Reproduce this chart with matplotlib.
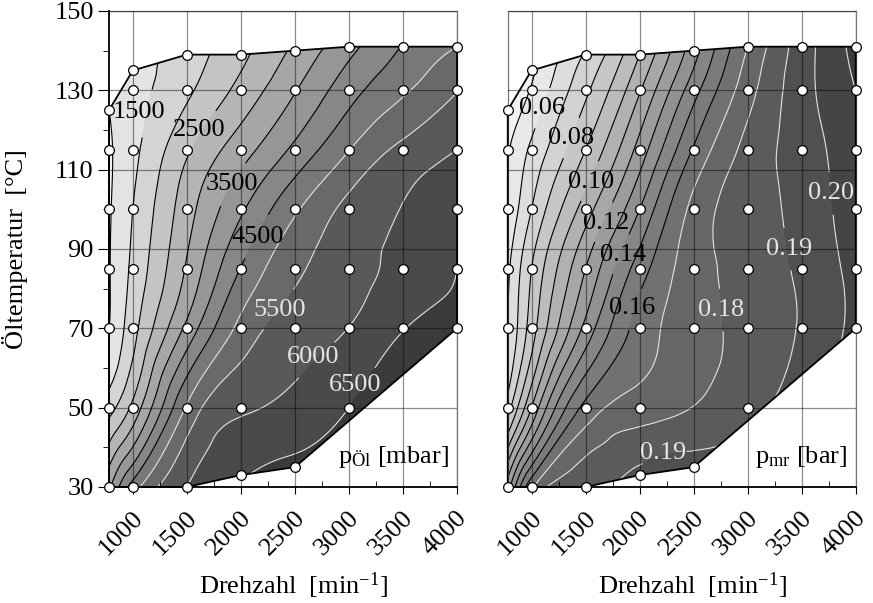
import numpy as np
import matplotlib
matplotlib.use('Agg')
import matplotlib.pyplot as plt
import matplotlib.tri as mtri
from matplotlib.patches import Polygon
from matplotlib.ticker import MultipleLocator
from matplotlib.transforms import ScaledTranslation

plt.rcParams['font.family'] = ['Liberation Serif', 'DejaVu Serif']
plt.rcParams['mathtext.fontset'] = 'custom'
plt.rcParams['mathtext.rm'] = 'Liberation Serif'
plt.rcParams['mathtext.it'] = 'Liberation Serif:italic'

# measured operating points, row by row from the top edge of the map down
drehzahl = [780, 1000, 1500, 2000, 2500, 3000, 3500, 4000,
            1000, 1500, 2000, 2500, 3000, 3500, 4000,
            780, 1000, 1500, 2000, 2500, 3000, 3500, 4000,
            780, 1000, 1500, 2000, 2500, 3000, 4000,
            780, 1000, 1500, 2000, 2500, 3000, 3500, 4000,
            780, 1000, 1500, 2000, 2500, 3000, 3500, 4000,
            780, 1000, 1500, 2000, 3000,
            780, 1000, 1500, 2000, 2500]
oeltemp = [125, 135, 139, 139, 140, 141, 141, 141,
           130, 130, 130, 130, 130, 130, 130,
           115, 115, 115, 115, 115, 115, 115, 115,
           100, 100, 100, 100, 100, 100, 100,
           85, 85, 85, 85, 85, 85, 85, 85,
           70, 70, 70, 70, 70, 70, 70, 70,
           50, 50, 50, 50, 50,
           30, 30, 30, 33, 35]

# oil pressure [mbar]
p_oel = [1000, 1250, 1770, 2380, 3110, 3850, 4530, 5000,
         1280, 1910, 2660, 3470, 4300, 4925, 5480,
         940, 1360, 2420, 3280, 4120, 4985, 5625, 6000,
         950, 1500, 2790, 3920, 4920, 5640, 6380,
         970, 1610, 3060, 4520, 5400, 5800, 6150, 6500,
         990, 1810, 3630, 5150, 5720, 6010, 6480, 6650,
         1800, 2630, 5060, 5930, 6500,
         3400, 4730, 6000, 6450, 6620]

# friction mean pressure [bar]
p_mr = [0.043, 0.048, 0.071, 0.100, 0.136, 0.170, 0.195, 0.213,
        0.051, 0.078, 0.109, 0.146, 0.176, 0.196, 0.210,
        0.049, 0.062, 0.090, 0.124, 0.161, 0.183, 0.195, 0.206,
        0.052, 0.070, 0.105, 0.140, 0.173, 0.185, 0.205,
        0.058, 0.080, 0.120, 0.155, 0.1755, 0.184, 0.192, 0.203,
        0.060, 0.085, 0.133, 0.164, 0.1756, 0.1836, 0.191, 0.2027,
        0.075, 0.110, 0.163, 0.175, 0.187,
        0.125, 0.168, 0.186, 0.192, 0.194]

# outline of the measured map
rand_drehzahl = [780, 1000, 1500, 2000, 2500, 4000, 4000, 3500, 3000, 2500, 2000, 1500, 1000, 780]
rand_temp = [30, 30, 30, 33, 35, 70, 141, 141, 141, 140, 139, 139, 135, 125]

levels_oel = [1000, 1500, 2000, 2500, 3000, 3500, 4000, 4500, 5000, 5500, 6000, 6500]
labels_oel = [1500, 2500, 3500, 4500, 5500, 6000, 6500]
label_pos_oel = [(1056, 124.5), (1611, 120), (1917, 106.4), (2157, 93),
                 (2361, 74.6), (2667, 62.7), (3056, 55.7)]

levels_mr = [0.05, 0.06, 0.07, 0.08, 0.09, 0.10, 0.11, 0.12, 0.13, 0.14,
             0.15, 0.16, 0.17, 0.18, 0.19, 0.20, 0.21]
labels_mr = [0.06, 0.08, 0.10, 0.12, 0.14, 0.16, 0.18, 0.19, 0.20, 0.19]
label_pos_mr = [(1100, 125.5), (1365, 118), (1550, 107), (1690, 96.5), (1843, 88.5),
                (1930, 75), (2752, 74.6), (3380, 90), (3773, 104), (2220, 38.5)]

X_SCALE, Y_SCALE = 500.0, 15.0
LINE_WHITE = '#e4e4e4'


def smooth_field(values):
    # triangulate in normalised units, refine with the cubic interpolator
    x = np.asarray(drehzahl, float) / X_SCALE
    y = np.asarray(oeltemp, float) / Y_SCALE
    tri = mtri.Triangulation(x, y)
    z = np.asarray(values, float)
    interp = mtri.CubicTriInterpolator(tri, z, kind='min_E')
    refiner = mtri.UniformTriRefiner(tri)
    tri_r, z_r = refiner.refine_field(z, triinterpolator=interp, subdiv=4)
    tri_d = mtri.Triangulation(tri_r.x * X_SCALE, tri_r.y * Y_SCALE, tri_r.triangles)
    return tri_d, z_r


def map_panel(ax, values, levels, n_white, labels, label_pos, fmt, unit_text, first=True):
    tri_d, z = smooth_field(values)
    # open-ended outer bands so that overshoot of the interpolation is still filled
    bounds = [z.min() - 1] + levels + [z.max() + 1]
    grays = [str(round(g, 3)) for g in np.linspace(0.95, 0.23, len(bounds) - 1)]

    outline = list(zip(rand_drehzahl, rand_temp))
    clip = Polygon(outline, closed=True, transform=ax.transData)

    cf = ax.tricontourf(tri_d, z, levels=bounds, colors=grays, zorder=1)
    cf.set_clip_path(clip)

    # one contour set per level so that each label sits on its own level
    for i, lvl in enumerate(levels):
        color = 'k' if i < len(levels) - n_white else LINE_WHITE
        cl = ax.tricontour(tri_d, z, levels=[lvl], colors=[color], linewidths=0.8, zorder=2)
        cl.set_clip_path(clip)
        spots = [p for l, p in zip(labels, label_pos) if abs(l - lvl) < 1e-9]
        if spots:
            texts = ax.clabel(cl, manual=spots, inline=True, inline_spacing=0,
                              fmt=fmt, fontsize=19)
            for t, p in zip(texts, spots):
                t.set_rotation(0)
                t.set_position(p)

    ax.add_patch(Polygon(outline, closed=True, fill=False, edgecolor='k',
                         linewidth=1.3, zorder=4, clip_on=False))
    ax.plot(drehzahl, oeltemp, 'o', ms=7, mfc='white', mec='k', mew=0.9,
            zorder=5, clip_on=False)

    ax.set_xlim(780, 4000)
    ax.set_ylim(30, 150)
    ax.set_xticks(range(1000, 4001, 500))
    ax.xaxis.set_minor_locator(MultipleLocator(250))
    ax.set_yticks(range(30, 151, 20))
    ax.yaxis.set_minor_locator(MultipleLocator(10))
    ax.set_axisbelow(False)
    ax.grid(True, which='major', color='k', alpha=0.45, linewidth=0.9)

    ax.tick_params(axis='x', which='major', direction='out', length=5, labelsize=19,
                   labelrotation=45, pad=2)
    ax.tick_params(axis='x', which='minor', direction='in', length=4)
    shift = ScaledTranslation(11 / 100, -22 / 100, ax.figure.dpi_scale_trans)
    for lab in ax.get_xticklabels():
        lab.set_ha('right')
        lab.set_va('baseline')
        lab.set_rotation_mode('anchor')
        lab.set_transform(lab.get_transform() + shift)

    for side in ['top', 'right']:
        ax.spines[side].set_color('#777777')
        ax.spines[side].set_linewidth(0.9)
    ax.spines['bottom'].set_color('k')
    ax.spines['bottom'].set_linewidth(1.3)
    if first:
        ax.spines['left'].set_color('k')
        ax.spines['left'].set_linewidth(1.3)
        ax.tick_params(axis='y', which='major', direction='out', length=8, labelsize=19, pad=3)
        ax.tick_params(axis='y', which='minor', direction='out', length=4)
        ax.set_ylabel('Öltemperatur  [°C]', fontsize=19)
        ax.yaxis.set_label_coords(-0.233, 0.5)
    else:
        ax.spines['left'].set_color('#777777')
        ax.spines['left'].set_linewidth(0.9)
        ax.tick_params(axis='y', which='both', length=0, labelleft=False)

    ax.set_xlabel('Drehzahl  [min$^{\\mathregular{-1}}$]', fontsize=19)
    ax.xaxis.set_label_coords(0.53, -0.176)
    ax.text(0.976, 0.05, unit_text, transform=ax.transAxes, ha='right', va='baseline',
            fontsize=19, zorder=6)


fig = plt.figure(figsize=(8.73, 6.03), dpi=100)
ax1 = fig.add_axes([0.1249, 0.1924, 0.3986, 0.7894])
ax2 = fig.add_axes([0.5816, 0.1924, 0.3986, 0.7894])

map_panel(ax1, p_oel, levels_oel, 4, labels_oel, label_pos_oel, '%d',
          r'p$_{\mathregular{Öl}}$ [mbar]', first=True)
map_panel(ax2, p_mr, levels_mr, 5, labels_mr, label_pos_mr, '%.2f',
          r'p$_{\mathregular{mr}}$ [bar]', first=False)

fig.savefig('out.png', dpi=100)
